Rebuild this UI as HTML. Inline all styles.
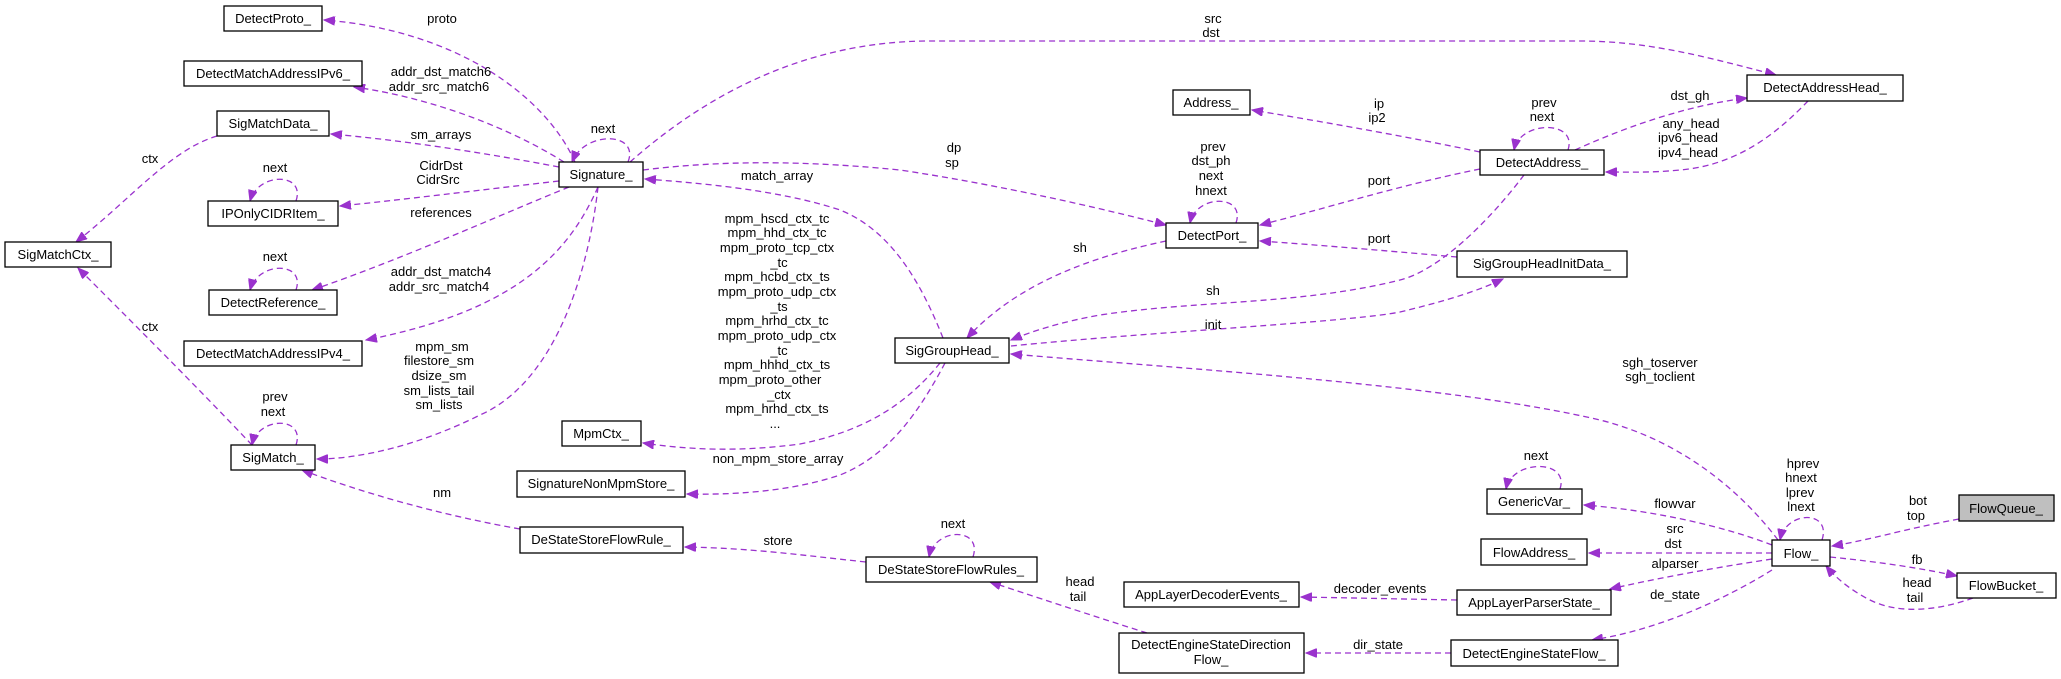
<!DOCTYPE html>
<html><head><meta charset="utf-8"><style>
html,body{margin:0;padding:0;background:#fff;}
svg{display:block;}
text{font-family:"Liberation Sans",Arial,sans-serif;font-size:13px;fill:#000;}
.e{fill:none;stroke:#9a32cd;stroke-width:1.3;stroke-dasharray:6,4;marker-end:url(#a);}
.b{fill:#fff;stroke:#000;stroke-width:1.3;}
</style></head><body>
<svg width="2061" height="679" viewBox="0 0 2061 679" xmlns="http://www.w3.org/2000/svg">
<defs><marker id="a" markerUnits="userSpaceOnUse" markerWidth="12" markerHeight="9" refX="11" refY="4.5" orient="auto"><path d="M0,0 L11,4.5 L0,9 z" fill="#9a32cd" stroke="#9a32cd"/></marker></defs>

<!-- edges -->
<path class="e" d="M575,162 C545,95 455,30 324,20"/>
<path class="e" d="M564,162 C500,122 420,96 354,87"/>
<path class="e" d="M559,167 C480,152 400,140 331,134"/>
<path class="e" d="M628,162 C640,132 585,130 572,162"/>
<path class="e" d="M559,181 C480,190 400,200 340,206"/>
<path class="e" d="M296,201 C306,172 258,172 250,201"/>
<path class="e" d="M569,187 C500,215 400,260 312,290"/>
<path class="e" d="M296,290 C306,261 258,261 250,290"/>
<path class="e" d="M598,187 C570,250 520,310 366,340"/>
<path class="e" d="M598,187 C590,260 560,380 480,415 C420,445 360,459 317,459"/>
<path class="e" d="M217,136 C170,150 130,200 76,242"/>
<path class="e" d="M252,445 C200,390 130,320 78,268"/>
<path class="e" d="M296,445 C306,416 258,416 252,445"/>
<path class="e" d="M520,529 C440,515 360,492 302,470"/>
<path class="e" d="M630,162 C700,100 800,41 930,41 L1580,41 C1650,41 1710,58 1776,75"/>
<path class="e" d="M643,170 C700,163 780,158 900,170 C1000,185 1100,208 1166,225"/>
<path class="e" d="M943,338 C920,280 890,230 840,210 C780,190 700,183 645,179"/>
<path class="e" d="M940,363 C910,400 870,430 800,444 C740,452 690,450 643,443"/>
<path class="e" d="M945,363 C920,410 890,455 840,475 C790,492 730,495 687,494"/>
<path class="e" d="M1166,241 C1100,255 1020,280 967,338"/>
<path class="e" d="M1236,223 C1246,194 1196,194 1190,223"/>
<path class="e" d="M1480,152 C1400,135 1300,118 1252,110"/>
<path class="e" d="M1480,169 C1400,185 1320,210 1260,225"/>
<path class="e" d="M1457,257 C1400,252 1320,245 1260,241"/>
<path class="e" d="M1524,175 C1490,220 1440,270 1400,280 C1300,305 1200,300 1100,315 C1060,322 1030,332 1011,340"/>
<path class="e" d="M1011,346 C1150,332 1350,322 1400,312 C1450,300 1480,290 1503,279"/>
<path class="e" d="M1568,150 C1578,120 1520,120 1514,150"/>
<path class="e" d="M1575,150 C1630,125 1690,105 1747,98"/>
<path class="e" d="M1808,101 C1780,130 1740,165 1680,170 C1650,173 1625,172 1606,172"/>
<path class="e" d="M1778,540 C1740,490 1680,440 1600,420 C1450,385 1200,370 1011,354"/>
<path class="e" d="M1822,540 C1832,510 1786,510 1780,540"/>
<path class="e" d="M1772,545 C1720,525 1650,510 1584,505"/>
<path class="e" d="M1560,489 C1570,459 1512,459 1506,489"/>
<path class="e" d="M1772,553 L1589,553"/>
<path class="e" d="M1772,559 C1700,570 1650,580 1610,589"/>
<path class="e" d="M1772,570 C1740,590 1670,628 1592,640"/>
<path class="e" d="M1457,600 L1301,597"/>
<path class="e" d="M1451,653 L1306,653"/>
<path class="e" d="M1147,633 C1090,615 1030,595 990,582"/>
<path class="e" d="M866,562 C800,555 750,548 685,547"/>
<path class="e" d="M973,557 C983,527 935,527 929,557"/>
<path class="e" d="M1959,519 C1900,530 1870,540 1832,546"/>
<path class="e" d="M1830,557 C1880,562 1920,568 1957,576"/>
<path class="e" d="M1973,598 C1940,610 1900,615 1870,600 C1850,590 1835,577 1826,566"/>

<!-- boxes -->
<g>
<rect class="b" x="224" y="6" width="98" height="25"/><text x="273" y="23" text-anchor="middle">DetectProto_</text>
<rect class="b" x="184" y="61" width="178" height="25"/><text x="273" y="78" text-anchor="middle">DetectMatchAddressIPv6_</text>
<rect class="b" x="217" y="111" width="112" height="25"/><text x="273" y="128" text-anchor="middle">SigMatchData_</text>
<rect class="b" x="208" y="201" width="130" height="25"/><text x="273" y="218" text-anchor="middle">IPOnlyCIDRItem_</text>
<rect class="b" x="5" y="242" width="106" height="25"/><text x="58" y="259" text-anchor="middle">SigMatchCtx_</text>
<rect class="b" x="209" y="290" width="128" height="25"/><text x="273" y="307" text-anchor="middle">DetectReference_</text>
<rect class="b" x="559" y="162" width="84" height="25"/><text x="601" y="179" text-anchor="middle">Signature_</text>
<rect class="b" x="184" y="341" width="178" height="25"/><text x="273" y="358" text-anchor="middle">DetectMatchAddressIPv4_</text>
<rect class="b" x="231" y="445" width="84" height="25"/><text x="273" y="462" text-anchor="middle">SigMatch_</text>
<rect class="b" x="562" y="421" width="79" height="25"/><text x="601" y="438" text-anchor="middle">MpmCtx_</text>
<rect class="b" x="517" y="471" width="168" height="26"/><text x="601" y="488" text-anchor="middle">SignatureNonMpmStore_</text>
<rect class="b" x="520" y="527" width="163" height="26"/><text x="601" y="544" text-anchor="middle">DeStateStoreFlowRule_</text>
<rect class="b" x="1173" y="90" width="77" height="25"/><text x="1211" y="107" text-anchor="middle">Address_</text>
<rect class="b" x="1166" y="223" width="92" height="25"/><text x="1212" y="240" text-anchor="middle">DetectPort_</text>
<rect class="b" x="895" y="338" width="114" height="25"/><text x="952" y="355" text-anchor="middle">SigGroupHead_</text>
<rect class="b" x="866" y="557" width="171" height="25"/><text x="951" y="574" text-anchor="middle">DeStateStoreFlowRules_</text>
<rect class="b" x="1124" y="582" width="175" height="25"/><text x="1211" y="599" text-anchor="middle">AppLayerDecoderEvents_</text>
<rect class="b" x="1119" y="633" width="185" height="40"/><text x="1211" y="649" text-anchor="middle">DetectEngineStateDirection</text><text x="1211" y="664" text-anchor="middle">Flow_</text>
<rect class="b" x="1747" y="75" width="156" height="26"/><text x="1825" y="92" text-anchor="middle">DetectAddressHead_</text>
<rect class="b" x="1480" y="150" width="124" height="25"/><text x="1542" y="167" text-anchor="middle">DetectAddress_</text>
<rect class="b" x="1457" y="251" width="170" height="26"/><text x="1542" y="268" text-anchor="middle">SigGroupHeadInitData_</text>
<rect class="b" x="1487" y="489" width="95" height="25"/><text x="1534" y="506" text-anchor="middle">GenericVar_</text>
<rect class="b" x="1481" y="539" width="106" height="26"/><text x="1534" y="557" text-anchor="middle">FlowAddress_</text>
<rect class="b" x="1457" y="590" width="154" height="25"/><text x="1534" y="607" text-anchor="middle">AppLayerParserState_</text>
<rect class="b" x="1451" y="640" width="167" height="26"/><text x="1534" y="658" text-anchor="middle">DetectEngineStateFlow_</text>
<rect class="b" x="1772" y="540" width="58" height="26"/><text x="1801" y="558" text-anchor="middle">Flow_</text>
<rect class="b" x="1959" y="495" width="95" height="26" style="fill:#bfbfbf"/><text x="2006" y="513" text-anchor="middle">FlowQueue_</text>
<rect class="b" x="1957" y="573" width="99" height="25"/><text x="2006" y="590" text-anchor="middle">FlowBucket_</text>
</g>

<!-- labels -->
<g text-anchor="middle">
<text x="442" y="23">proto</text>
<text x="441" y="76">addr_dst_match6</text><text x="439" y="91">addr_src_match6</text>
<text x="441" y="139">sm_arrays</text>
<text x="603" y="133">next</text>
<text x="150" y="163">ctx</text>
<text x="275" y="172">next</text>
<text x="441" y="170">CidrDst</text><text x="438" y="184">CidrSrc</text>
<text x="441" y="217">references</text>
<text x="275" y="261">next</text>
<text x="441" y="276">addr_dst_match4</text><text x="439" y="291">addr_src_match4</text>
<text x="150" y="331">ctx</text>
<text x="442" y="351">mpm_sm</text><text x="439" y="365">filestore_sm</text><text x="439" y="380">dsize_sm</text><text x="439" y="395">sm_lists_tail</text><text x="439" y="409">sm_lists</text>
<text x="275" y="401">prev</text><text x="273" y="416">next</text>
<text x="442" y="497">nm</text>
<text x="1213" y="23">src</text><text x="1211" y="37">dst</text>
<text x="1379" y="108">ip</text><text x="1377" y="122">ip2</text>
<text x="954" y="152">dp</text><text x="952" y="167">sp</text>
<text x="777" y="180">match_array</text>
<text x="1213" y="151">prev</text><text x="1211" y="165">dst_ph</text><text x="1211" y="180">next</text><text x="1211" y="195">hnext</text>
<text x="1379" y="185">port</text>
<text x="1379" y="243">port</text>
<text x="1080" y="252">sh</text>
<text x="1213" y="295">sh</text>
<text x="1213" y="329">init</text>
<text x="777" y="223">mpm_hscd_ctx_tc</text>
<text x="777" y="237">mpm_hhd_ctx_tc</text>
<text x="777" y="252">mpm_proto_tcp_ctx</text>
<text x="779" y="267">_tc</text>
<text x="777" y="281">mpm_hcbd_ctx_ts</text>
<text x="777" y="296">mpm_proto_udp_ctx</text>
<text x="779" y="311">_ts</text>
<text x="777" y="325">mpm_hrhd_ctx_tc</text>
<text x="777" y="340">mpm_proto_udp_ctx</text>
<text x="779" y="355">_tc</text>
<text x="777" y="369">mpm_hhhd_ctx_ts</text>
<text x="770" y="384">mpm_proto_other</text>
<text x="779" y="399">_ctx</text>
<text x="777" y="413">mpm_hrhd_ctx_ts</text>
<text x="775" y="428">...</text>
<text x="778" y="463">non_mpm_store_array</text>
<text x="953" y="528">next</text>
<text x="778" y="545">store</text>
<text x="1080" y="586">head</text><text x="1078" y="601">tail</text>
<text x="1380" y="593">decoder_events</text>
<text x="1378" y="649">dir_state</text>
<text x="1544" y="107">prev</text><text x="1542" y="121">next</text>
<text x="1690" y="100">dst_gh</text>
<text x="1691" y="128">any_head</text><text x="1688" y="142">ipv6_head</text><text x="1688" y="157">ipv4_head</text>
<text x="1660" y="367">sgh_toserver</text><text x="1660" y="381">sgh_toclient</text>
<text x="1536" y="460">next</text>
<text x="1803" y="468">hprev</text><text x="1801" y="482">hnext</text><text x="1800" y="497">lprev</text><text x="1801" y="511">lnext</text>
<text x="1675" y="508">flowvar</text>
<text x="1675" y="533">src</text><text x="1673" y="548">dst</text>
<text x="1675" y="568">alparser</text>
<text x="1675" y="599">de_state</text>
<text x="1918" y="505">bot</text><text x="1916" y="520">top</text>
<text x="1917" y="564">fb</text>
<text x="1917" y="587">head</text><text x="1915" y="602">tail</text>
</g>
</svg>
</body></html>
